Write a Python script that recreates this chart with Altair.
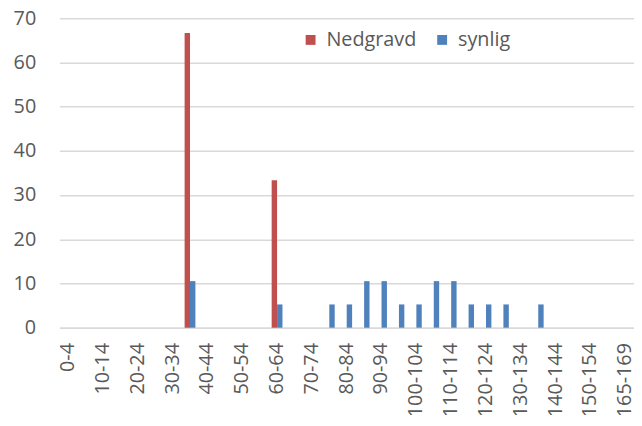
import altair as alt
import pandas as pd

categories = [f"{a}-{a+4}" for a in range(0, 160, 5)] + ["165-169"]
nedgravd = [0] * len(categories)
synlig = [0] * len(categories)
nedgravd_vals = {"35-39": 66.67, "60-64": 33.33}
synlig_vals = {"35-39": 10.53, "60-64": 5.26, "75-79": 5.26, "80-84": 5.26,
               "85-89": 10.53, "90-94": 10.53, "95-99": 5.26, "100-104": 5.26,
               "105-109": 10.53, "110-114": 10.53, "115-119": 5.26, "120-124": 5.26,
               "125-129": 5.26, "135-139": 5.26}
for i, c in enumerate(categories):
    nedgravd[i] = nedgravd_vals.get(c, 0)
    synlig[i] = synlig_vals.get(c, 0)

series = ["Nedgravd", "synlig"]
colors = ["#C0504D", "#4F81BD"]

rows = []
for i, c in enumerate(categories):
    rows.append({"cat": c, "serie": "Nedgravd", "val": nedgravd[i]})
    rows.append({"cat": c, "serie": "synlig", "val": synlig[i]})
df = pd.DataFrame(rows)

label_values = categories[::2]
FONT = "Open Sans"

chart = alt.Chart(df).mark_bar().encode(
    x=alt.X("cat:N", sort=categories, title=None,
            scale=alt.Scale(paddingInner=0.38, paddingOuter=0.19),
            axis=alt.Axis(values=label_values, labelAngle=-90, labelFontSize=20,
                          labelColor="#595959", labelFont=FONT, labelPadding=15,
                          ticks=False, domainColor="#D9D9D9", domainWidth=1.5,
                          labelOverlap=False, labelBound=False)),
    xOffset=alt.XOffset("serie:N", sort=series),
    y=alt.Y("val:Q", title=None,
            scale=alt.Scale(domain=[0, 70]),
            axis=alt.Axis(values=list(range(0, 80, 10)), labelFontSize=20,
                          labelColor="#595959", labelFont=FONT, labelPadding=24,
                          ticks=False, domain=False, gridColor="#D9D9D9",
                          gridWidth=1.5)),
    color=alt.Color("serie:N", sort=series,
                    scale=alt.Scale(domain=series, range=colors),
                    legend=alt.Legend(title=None, orient="none", direction="horizontal",
                                      legendX=244, legendY=12, symbolType="square",
                                      symbolSize=100, symbolStrokeWidth=0,
                                      labelFontSize=20, labelFont=FONT, labelOffset=6,
                                      labelColor="#595959", columnPadding=16,
                                      symbolOpacity=1)),
).properties(
    width=581, height=313,
    autosize=alt.AutoSizeParams(type="none"),
    padding={"left": 52, "top": 8, "right": 0, "bottom": 86},
).configure_view(stroke=None).configure_axisX(grid=False)

chart.save("out.html", embed_options={"renderer": "svg", "actions": False})
